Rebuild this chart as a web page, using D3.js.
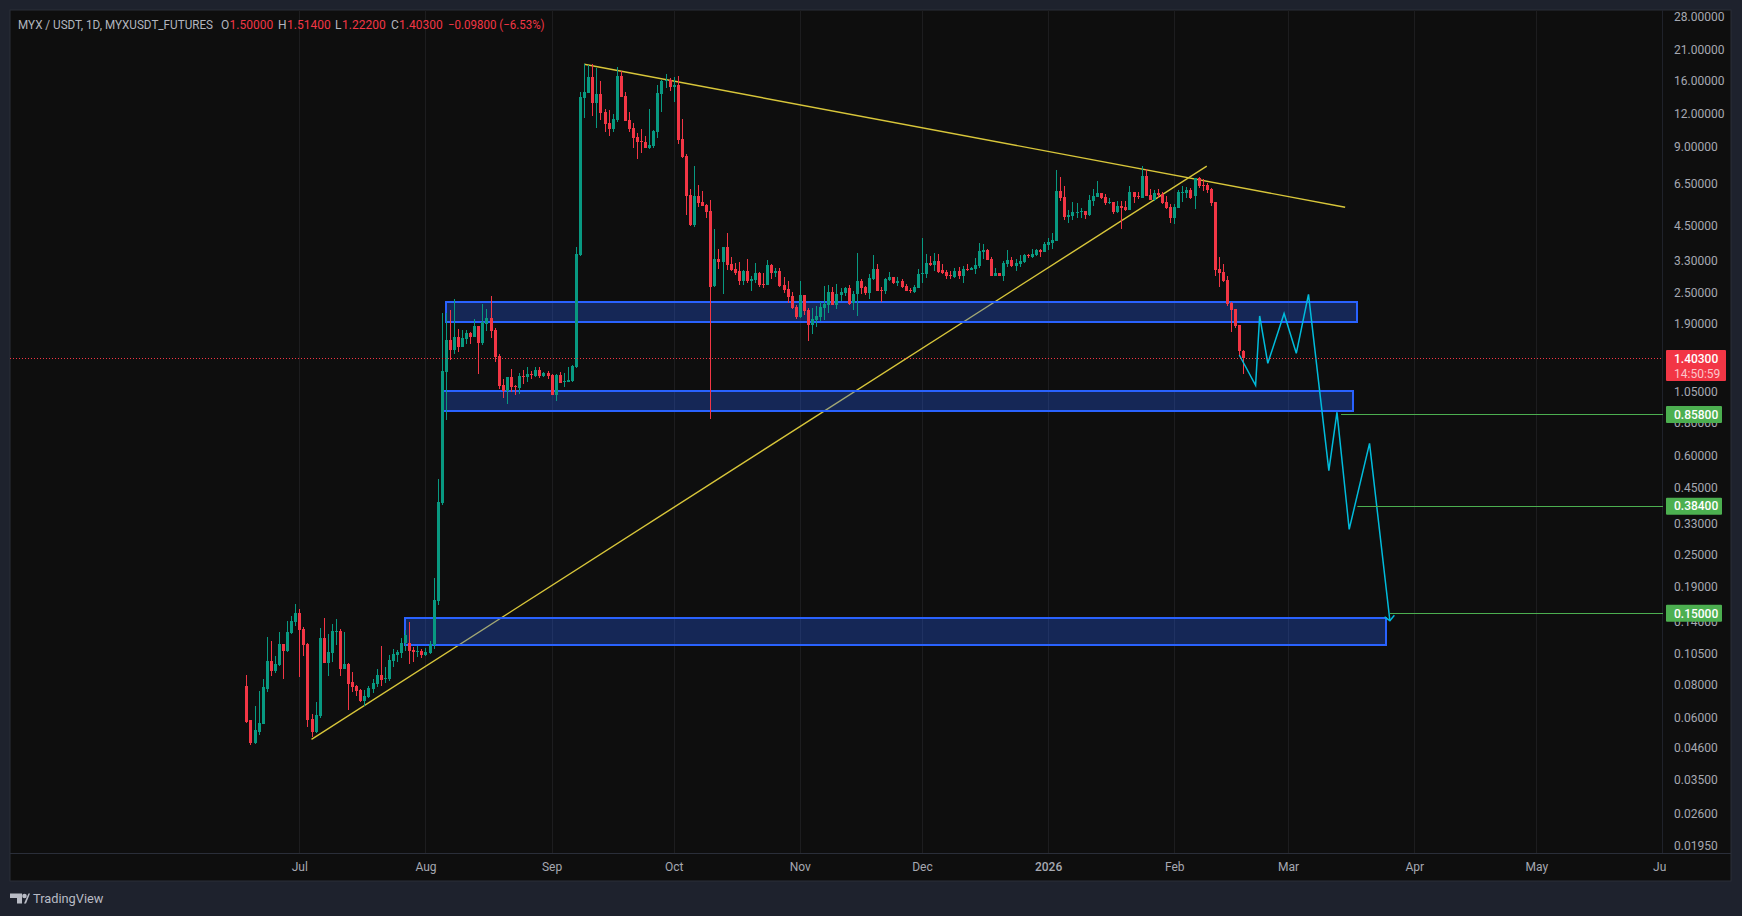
<!DOCTYPE html>
<html lang="en">
<head>
<meta charset="UTF-8">
<title>MYX / USDT, 1D</title>
<script src="https://d3js.org/d3.v7.min.js"></script>
<style>
    body { margin: 0; background: #1e222d; overflow: hidden; }
    svg { display: block; }
    text { font-family: Roboto, sans-serif; font-size: 12px; }
</style>
</head>
<body>
<div id="chart"></div>
<script>
// Days are counted from 1 Jul 2025, negative ones are in June
const firstDay = -13;

const opens = [
    .079,.0587,.0482,.0528,.0566,.0772,.0988,.0904,.0952,.1146,
    .1078,.1265,.1388,.1502,.1302,.1146,.0596,.0532,.0612,.1208,
    .0971,.106,.1277,.1284,.0922,.0963,.0823,.0795,.0767,.0697,
    .0722,.0774,.0809,.0875,.0846,.0845,.0988,.1041,.106,.1156,
    .1156,.1088,.1072,.1078,.1041,.106,.1136,.167,.395,1.25,
    1.649,1.51,1.693,1.55,1.663,1.753,1.693,1.864,1.606,1.897,
    2.0,1.8,1.433,1.11,1.054,1.191,1.101,1.082,1.202,1.191,
    1.223,1.202,1.267,1.202,1.234,1.212,1.018,1.212,1.143,1.14,
    1.15,1.305,3.47,13.74,14.37,16.55,13.15,14.25,12.15,11.03,
    10.47,11.33,16.7,14.0,11.33,10.57,9.76,9.43,9.35,8.87,
    9.02,10.2,14.25,16.0,16.1,15.14,15.41,9.6,8.27,5.88,
    4.51,5.82,5.52,5.38,5.1,2.65,3.36,3.27,3.73,3.21,
    3.07,3.02,2.76,3.02,2.76,2.79,2.97,2.69,2.67,3.18,
    2.97,3.02,2.67,2.58,2.425,2.2,2.02,2.446,2.145,1.88,
    1.965,2.02,2.183,2.24,2.51,2.24,2.446,2.49,2.6,2.28,
    2.467,2.76,2.63,2.49,2.81,3.07,2.556,2.53,2.79,2.87,
    2.71,2.76,2.65,2.556,2.51,2.6,2.94,2.94,3.24,3.18,
    3.3,3.05,3.0,2.92,2.87,3.02,2.89,3.07,3.05,3.07,
    3.16,3.57,3.63,3.36,2.89,2.97,2.89,3.21,3.33,3.16,
    3.21,3.27,3.47,3.41,3.47,3.63,3.57,3.79,3.85,3.93,
    6.09,5.77,4.84,4.88,5.03,5.06,5.1,4.92,5.57,5.77,
    5.98,5.77,5.47,5.52,5.06,5.33,5.28,5.15,6.03,5.82,
    5.72,6.94,5.88,5.62,5.98,5.93,5.52,5.28,4.8,5.24,
    6.0,5.98,6.14,5.82,6.82,6.42,6.42,6.2,5.52,3.07,
    3.0,2.79,2.28,2.164,1.88,1.5
];

const highs = [
    .0875,.0591,.0667,.0761,.0845,.1218,.1177,.1032,.1276,.1146,
    .1401,.1463,.1626,.1556,.1329,.1156,.0622,.0691,.1318,.1438,
    .125,.1364,.1425,.1306,.1272,.0971,.0898,.0802,.0774,.0767,
    .0795,.0845,.0922,.1126,.0938,.1041,.1097,.1088,.1208,.1295,
    .1388,.1117,.113,.1097,.1107,.1177,.204,.488,2.09,2.09,
    2.145,2.36,1.816,1.8,1.8,1.775,1.982,1.864,2.26,2.164,
    2.425,1.832,1.458,1.171,1.191,1.278,1.11,1.234,1.267,1.3,
    1.256,1.3,1.3,1.245,1.256,1.223,1.223,1.245,1.234,1.3,
    1.323,3.73,14.5,18.5,18.35,18.5,17.9,15.95,12.48,12.37,
    11.94,18.05,17.45,14.5,12.15,11.03,10.11,10.47,9.85,12.48,
    10.38,15.41,16.1,17.0,16.4,16.55,16.7,11.43,8.41,6.2,
    7.57,6.42,6.09,5.43,5.62,4.36,3.66,3.73,4.21,3.41,
    3.24,3.27,3.05,3.36,2.89,3.24,3.0,2.97,3.33,3.21,
    3.1,3.1,2.87,2.76,2.51,2.24,2.76,2.446,2.183,2.183,
    2.22,2.3,2.65,2.67,2.63,2.69,2.6,2.63,2.67,2.53,
    3.53,2.81,2.65,2.94,3.47,3.21,2.63,2.84,3.0,2.87,
    2.87,2.81,2.69,2.6,2.67,3.07,4.03,3.5,3.44,3.53,
    3.5,3.21,3.05,3.02,3.1,3.13,3.16,3.21,3.13,3.38,
    3.85,3.82,3.66,3.41,3.1,2.97,3.3,3.63,3.41,3.36,
    3.47,3.5,3.5,3.66,3.66,3.66,3.89,4.03,4.21,7.31,
    6.88,6.36,5.15,5.52,5.47,5.24,5.1,5.88,6.2,6.64,
    5.98,5.93,5.72,5.52,5.57,5.57,5.57,6.36,6.03,6.03,
    7.57,7.37,6.2,6.14,6.2,6.03,5.82,5.43,5.43,6.14,
    6.36,6.3,6.25,6.82,6.88,6.76,6.53,6.25,5.52,3.41,
    3.21,2.89,2.3,2.164,1.88,1.514
];

const lows = [
    .0575,.0472,.0478,.0518,.0566,.0754,.0867,.0888,.0946,.0845,
    .1072,.1247,.1341,.086,.1032,.0556,.0509,.0527,.0601,.0971,
    .0867,.098,.1136,.0867,.0922,.0645,.0754,.0728,.0691,.0667,
    .0716,.0748,.0788,.0795,.0816,.083,.0938,.098,.1014,.1078,
    .0963,.098,.1023,.1014,.1032,.1051,.1097,.161,.388,.818,
    1.383,1.458,1.484,1.55,1.592,1.592,1.693,1.223,1.578,1.785,
    1.678,1.36,1.072,.991,.94,1.045,1.018,1.026,1.12,1.14,
    1.171,1.191,1.181,1.191,1.171,1.018,.965,1.13,1.091,1.14,
    1.14,1.292,3.45,11.53,14.37,11.73,10.57,11.33,10.2,9.85,
    10.2,11.13,13.87,11.23,10.2,8.87,8.05,8.48,8.87,8.79,
    8.87,9.68,12.15,15.0,14.62,13.27,9.18,8.12,4.92,4.48,
    4.44,5.28,5.33,4.8,.825,2.63,3.07,2.467,3.05,3.02,
    2.92,2.67,2.67,2.71,2.53,2.71,2.63,2.6,2.67,2.81,
    2.87,2.63,2.49,2.28,2.164,1.98,2.0,2.05,1.635,1.738,
    1.848,1.948,1.965,2.09,2.24,2.164,2.32,2.425,2.24,2.145,
    2.035,2.467,2.446,2.36,2.79,2.53,2.3,2.467,2.76,2.69,
    2.65,2.6,2.53,2.49,2.49,2.6,2.71,2.84,3.16,3.02,
    2.97,2.94,2.81,2.81,2.84,2.81,2.71,3.02,3.05,2.94,
    3.1,3.36,3.33,2.89,2.89,2.89,2.76,3.13,3.13,3.02,
    3.13,3.24,3.38,3.38,3.44,3.41,3.57,3.63,3.66,3.93,
    5.57,4.72,4.59,4.72,4.8,4.8,4.76,4.88,5.33,5.77,
    5.67,5.38,5.43,4.97,5.01,4.36,5.1,5.15,5.47,5.67,
    5.72,5.82,5.62,5.57,5.72,5.43,5.2,4.59,4.55,5.24,
    5.52,5.72,5.67,5.2,6.25,6.09,5.98,5.33,2.89,2.63,
    2.74,2.22,1.769,1.832,1.433,1.222
];

const closes = [
    .0577,.0482,.0537,.0571,.0783,.0988,.0904,.0963,.1146,.1078,
    .1272,.1401,.1502,.1295,.1136,.0591,.0532,.0617,.1208,.0971,
    .1069,.1284,.1284,.0922,.0963,.0809,.0788,.0761,.0697,.0728,
    .0781,.0816,.0875,.0837,.0852,.0997,.1051,.1069,.1156,.124,
    .1078,.1069,.1078,.1041,.1069,.1146,.168,.398,1.255,1.65,
    1.51,1.693,1.55,1.678,1.753,1.693,1.864,1.606,1.93,2.0,
    1.785,1.42,1.101,1.054,1.191,1.091,1.091,1.202,1.191,1.223,
    1.212,1.267,1.202,1.234,1.202,1.018,1.212,1.13,1.15,1.161,
    1.312,3.5,13.87,14.5,16.55,13.15,14.25,12.05,10.94,10.47,
    11.43,16.7,13.87,11.23,10.47,9.68,9.35,9.35,8.87,9.1,
    10.29,14.37,15.95,16.1,15.14,15.41,9.51,8.19,5.82,4.51,
    5.82,5.47,5.33,5.06,2.63,3.36,3.27,3.73,3.18,3.05,
    2.97,2.76,3.02,2.76,2.81,2.97,2.67,2.67,3.18,2.97,
    3.02,2.65,2.556,2.4,2.183,2.02,2.446,2.126,1.88,1.98,
    2.035,2.2,2.26,2.51,2.24,2.467,2.51,2.6,2.26,2.467,
    2.76,2.6,2.49,2.84,3.07,2.53,2.53,2.81,2.87,2.71,
    2.76,2.63,2.53,2.53,2.63,2.94,2.97,3.24,3.18,3.3,
    3.0,2.97,2.89,2.89,3.02,2.89,3.07,3.05,3.1,3.18,
    3.6,3.63,3.33,2.89,2.97,2.89,3.24,3.33,3.16,3.24,
    3.3,3.47,3.44,3.5,3.63,3.57,3.82,3.89,3.96,6.09,
    5.72,4.84,4.92,5.06,5.06,5.1,4.92,5.62,5.82,5.98,
    5.72,5.47,5.52,5.06,5.33,5.24,5.15,6.03,5.77,5.77,
    6.94,5.82,5.62,5.98,5.88,5.47,5.24,4.8,5.28,6.03,
    6.03,6.14,5.72,6.82,6.36,6.36,6.14,5.47,3.05,2.97,
    2.76,2.26,2.145,1.864,1.497,1.403
];

const priceTicks = [28, 21, 16, 12, 9, 6.5, 4.5, 3.3, 2.5, 1.9, 1.05, 0.8, 0.6, 0.45, 0.33, 0.25, 0.19, 0.14, 0.105, 0.08, 0.06, 0.046, 0.035, 0.026, 0.0195];
const monthDays = [0, 31, 62, 92, 123, 153, 184, 215, 243, 274, 304, 335];
const monthLabels = ["Jul", "Aug", "Sep", "Oct", "Nov", "Dec", "2026", "Feb", "Mar", "Apr", "May", "Jun"];

// Drawings on top of the candles
const trendDownDays = [70, 257];
const trendDownPrices = [18.5, 5.28];
const trendUpDays = [3, 223];
const trendUpPrices = [0.0497, 7.57];

const boxDays = [[36, 260], [35, 259], [26, 267]];
const boxPrices = [[2.30, 1.93], [1.054, 0.885], [0.1438, 0.1136]];

const forecastDays = [231, 235, 236, 238, 242, 245, 248, 253, 255, 258, 263, 268];
const forecastPrices = [1.445, 1.107, 2.035, 1.344, 2.08, 1.467, 2.46, 0.524, 0.875, 0.3134, 0.6655, 0.1406];
const arrowDays = [266.7, 268, 269.1];
const arrowPrices = [0.1455, 0.1406, 0.1474];

const targetPrices = [0.858, 0.384, 0.15];
const targetStartDays = [256, 260, 268];

const lastPrice = 1.403;
const countdown = "14:50:59";

const W = 1742, H = 916;
const plot = { left: 10, top: 10, right: 1663, bottom: 853, outerRight: 1731, outerBottom: 881 };
const up = "#089981", down = "#f23645", green = "#4caf50", cyan = "#00bcdc", blue = "#2962ff", yellow = "#d8c63a", axisText = "#a6a9b2";

const candles = opens.map((o, i) => ({ day: firstDay + i, o, h: highs[i], l: lows[i], c: closes[i] }));

const x = d3.scaleLinear().domain([0, 274]).range([299.3, 1414.3]);
const y = d3.scaleLog().domain([28, 0.0195]).range([17, 846]);

const svg = d3.select("#chart").append("svg").attr("width", W).attr("height", H);

const defs = svg.append("defs");
defs.append("clipPath").attr("id", "plotClip").append("rect")
    .attr("x", plot.left).attr("y", plot.top)
    .attr("width", plot.right - plot.left).attr("height", plot.bottom - plot.top);
defs.append("clipPath").attr("id", "timeClip").append("rect")
    .attr("x", plot.left).attr("y", plot.bottom)
    .attr("width", 1666 - plot.left).attr("height", plot.outerBottom - plot.bottom);

// Panel and separators
svg.append("rect").attr("x", plot.left).attr("y", plot.top)
    .attr("width", plot.outerRight - plot.left).attr("height", plot.outerBottom - plot.top)
    .attr("fill", "#0e0e0e").attr("stroke", "#2a2e39");
svg.append("line").attr("x1", plot.left).attr("x2", plot.outerRight).attr("y1", plot.bottom + .5).attr("y2", plot.bottom + .5).attr("stroke", "#2a2e39");
svg.append("line").attr("x1", plot.right - .5).attr("x2", plot.right - .5).attr("y1", plot.top).attr("y2", plot.bottom).attr("stroke", "#1f222a");

const chart = svg.append("g").attr("clip-path", "url(#plotClip)");

// Grid
chart.selectAll(".grid").data(monthDays).enter().append("line")
    .attr("class", "grid")
    .attr("x1", d => Math.round(x(d)) + .5).attr("x2", d => Math.round(x(d)) + .5)
    .attr("y1", plot.top).attr("y2", plot.bottom)
    .attr("stroke", "#1d1d1f");

const line = d3.line().x(d => x(d[0])).y(d => y(d[1]));

// Trend lines sit under the boxes
[[trendDownDays, trendDownPrices], [trendUpDays, trendUpPrices]].forEach(([days, prices]) => {
    chart.append("path")
        .attr("d", line(d3.zip(days, prices)))
        .attr("fill", "none").attr("stroke", yellow).attr("stroke-width", 1.4);
});

// Zones
boxDays.forEach((days, i) => {
    const top = Math.round(y(boxPrices[i][0])), bottom = Math.round(y(boxPrices[i][1]));
    const left = Math.round(x(days[0])), right = Math.round(x(days[1]));
    chart.append("rect")
        .attr("x", left).attr("width", right - left)
        .attr("y", top).attr("height", bottom - top)
        .attr("fill", blue).attr("fill-opacity", .3)
        .attr("stroke", blue).attr("stroke-width", 2)
        .attr("shape-rendering", "crispEdges");
});

// Candles
const candleG = chart.selectAll(".candle").data(candles).enter().append("g")
    .attr("class", "candle")
    .attr("fill", d => d.c >= d.o ? up : down)
    .attr("shape-rendering", "crispEdges");
candleG.append("rect")
    .attr("x", d => Math.round(x(d.day)))
    .attr("width", 1)
    .attr("y", d => y(d.h))
    .attr("height", d => y(d.l) - y(d.h));
candleG.append("rect")
    .attr("x", d => Math.round(x(d.day)) - 1)
    .attr("width", 3)
    .attr("y", d => y(Math.max(d.o, d.c)))
    .attr("height", d => Math.max(1, Math.abs(y(d.o) - y(d.c))));

// Forecast path
chart.append("path")
    .attr("d", line(d3.zip(forecastDays, forecastPrices)))
    .attr("fill", "none").attr("stroke", cyan).attr("stroke-width", 1.5);
chart.append("path")
    .attr("d", line(d3.zip(arrowDays, arrowPrices)))
    .attr("fill", "none").attr("stroke", cyan).attr("stroke-width", 1.5);

// Target levels
targetPrices.forEach((p, i) => {
    chart.append("line")
        .attr("x1", x(targetStartDays[i])).attr("x2", plot.right)
        .attr("y1", Math.floor(y(p)) + .5).attr("y2", Math.floor(y(p)) + .5)
        .attr("stroke", green);
});

// Last price line
chart.append("line")
    .attr("x1", plot.left).attr("x2", plot.right)
    .attr("y1", Math.floor(y(lastPrice)) + .5).attr("y2", Math.floor(y(lastPrice)) + .5)
    .attr("stroke", down).attr("stroke-dasharray", "1 2");

// Price axis
svg.append("g")
    .attr("transform", `translate(${plot.right + 7},0)`)
    .call(d3.axisRight(y).tickValues(priceTicks).tickSize(0).tickPadding(4).tickFormat(d3.format(".5f")))
    .call(g => g.select(".domain").remove())
    .call(g => g.selectAll("text").attr("fill", axisText).style("font-size", "12px"));

// Time axis
svg.append("g")
    .attr("clip-path", "url(#timeClip)")
    .append("g")
    .attr("transform", `translate(0,${plot.bottom})`)
    .call(d3.axisBottom(x).tickValues(monthDays).tickSize(0).tickPadding(9).tickFormat((d, i) => monthLabels[i]))
    .call(g => g.select(".domain").remove())
    .call(g => g.selectAll("text").attr("fill", axisText).style("font-size", "12px")
        .style("font-weight", (d, i) => monthLabels[i] === "2026" ? 500 : 400));

// Price tags
targetPrices.forEach(p => {
    svg.append("rect").attr("x", plot.right + 3).attr("width", 56).attr("y", y(p) - 8.5).attr("height", 17)
        .attr("fill", green).attr("rx", 1);
    svg.append("text").attr("x", plot.right + 11).attr("y", y(p)).attr("dy", ".35em")
        .attr("fill", "#fff").attr("font-weight", 500).text(d3.format(".5f")(p));
});
svg.append("rect").attr("x", plot.right + 3).attr("width", 60).attr("y", y(lastPrice) - 8.5).attr("height", 31)
    .attr("fill", down).attr("rx", 1);
svg.append("text").attr("x", plot.right + 11).attr("y", y(lastPrice)).attr("dy", ".35em")
    .attr("fill", "#fff").attr("font-weight", 500).text(d3.format(".5f")(lastPrice));
svg.append("text").attr("x", plot.right + 11).attr("y", y(lastPrice) + 15).attr("dy", ".35em")
    .attr("fill", "#fbc5ca").text(countdown);

// Legend line
const legendParts = [
    ["MYX / USDT, 1D, MYXUSDT_FUTURES", 18, "#b2b5be", 195],
    ["O", 221, "#b2b5be"], ["1.50000", 229.6, down],
    ["H", 278, "#b2b5be"], ["1.51400", 287, down],
    ["L", 335, "#b2b5be"], ["1.22200", 342, down],
    ["C", 391, "#b2b5be"], ["1.40300", 399, down],
    ["\u22120.09800 (\u22126.53%)", 448, down, 96.6]
];
svg.selectAll(".legend").data(legendParts).enter().append("text")
    .attr("class", "legend")
    .attr("x", d => d[1]).attr("y", 25).attr("dy", ".35em")
    .attr("fill", d => d[2])
    .attr("textLength", d => d[3] || null)
    .attr("lengthAdjust", "spacingAndGlyphs")
    .text(d => d[0]);

// TradingView mark
const logo = svg.append("g").attr("fill", "#b8bbc4");
logo.append("path").attr("d", "M10 893.5h12v10h-5v-5.5h-7z");
logo.append("circle").attr("cx", 24.5).attr("cy", 896).attr("r", 2.3);
logo.append("path").attr("d", "M24 903.5l4.5-10h1.5l-4 10z");
logo.append("text").attr("x", 33).attr("y", 899).attr("dy", ".35em")
    .attr("fill", "#b8bbc4").style("font-size", "12.8px").text("TradingView");
</script>
</body>
</html>
